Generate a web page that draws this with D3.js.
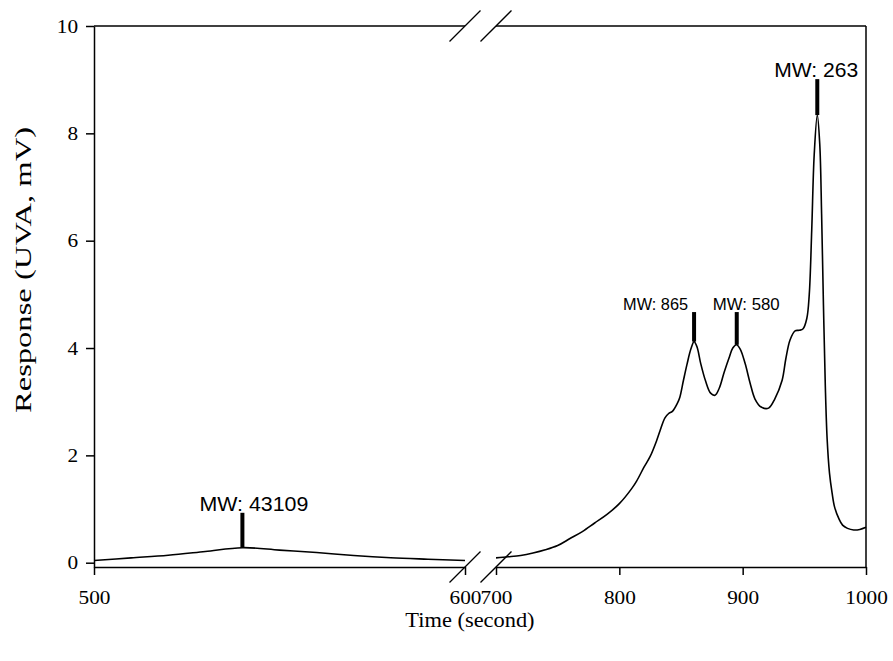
<!DOCTYPE html>
<html>
<head>
<meta charset="utf-8">
<script src="https://cdn.jsdelivr.net/npm/d3@7"></script>
<style>
  body { margin: 0; background: #fff; }
  .serif { font-family: "Liberation Serif", "Times New Roman", serif; }
  .sans { font-family: "Liberation Sans", Arial, sans-serif; }
</style>
</head>
<body>
<svg id="chart" width="893" height="661"></svg>
<script>
// left segment of the broken time axis (500-600 s)
const leftTime = [500, 510, 520, 530, 540, 550, 560, 570, 580, 590, 600];
const leftResp = [0.04, 0.09, 0.14, 0.21, 0.28, 0.235, 0.19, 0.135, 0.093, 0.065, 0.04];

// right segment (700-1000 s)
const rightTime = [700, 710, 720, 730, 740, 750, 760, 770, 780, 790, 800, 810, 814, 820, 825, 830, 833, 837,
  840, 843, 847, 849, 852, 855, 858, 860.6, 863, 866, 870, 874, 877.6, 881, 885, 889, 892, 895, 898, 902,
  906, 910, 915, 921, 926, 932, 935, 938.4, 942.5, 946, 949, 952, 954, 956, 958, 960.5, 962.5, 964, 965.5,
  967, 968.5, 970.4, 972.5, 974.5, 978, 981, 985, 990, 995, 1000];
const rightResp = [0.09, 0.11, 0.135, 0.18, 0.24, 0.32, 0.45, 0.58, 0.74, 0.9, 1.1, 1.38, 1.52, 1.78, 1.98,
  2.26, 2.46, 2.7, 2.78, 2.82, 2.97, 3.08, 3.4, 3.71, 3.98, 4.12, 4.02, 3.71, 3.38, 3.16, 3.12, 3.25, 3.55,
  3.82, 4.0, 4.06, 3.98, 3.71, 3.35, 3.05, 2.9, 2.88, 3.05, 3.4, 3.8, 4.15, 4.32, 4.33, 4.36, 4.55, 5.0, 6.2,
  7.6, 8.34, 7.8, 6.5, 4.8, 3.3, 2.3, 1.67, 1.3, 1.04, 0.82, 0.7, 0.64, 0.61, 0.62, 0.66];

// molecular weight markers
const markerTime = [540, 860.6, 895.2, 960.5];
const markerBase = [0.28, 4.12, 4.06, 8.34];
const markerTop = [0.93, 4.67, 4.67, 9.01];
const markerLabel = ['MW: 43109', 'MW: 865', 'MW: 580', 'MW: 263'];

const leftTicks = [500, 600];
const rightTicks = [700, 800, 900, 1000];
const yTicks = [0, 2, 4, 6, 8, 10];

// label placement relative to its bar (not data)
const labelStyle = [
  { dx: -43, size: 19.5, width: 109 },
  { dx: -71, size: 17, width: 65 },
  { dx: -24, size: 17, width: 67 },
  { dx: -43, size: 19.5, width: 84 },
];

const margin = { left: 94, right: 866, top: 26, bottom: 567 };
const breakLeft = 465;
const breakRight = 496;

const svg = d3.select('#chart');

const xLeft = d3.scaleLinear().domain([500, 600]).range([margin.left, breakLeft]);
const xRight = d3.scaleLinear().domain([700, 1000]).range([breakRight, margin.right]);
const y = d3.scaleLinear().domain([-0.08, 10]).range([margin.bottom, margin.top]);

// stretch text along its baseline, the original figure is a bit wide
function stretch(sel, k) {
  sel.each(function () {
    const len = this.getComputedTextLength();
    d3.select(this).attr('textLength', len * k).attr('lengthAdjust', 'spacingAndGlyphs');
  });
}

function styleAxis(g) {
  g.attr('font-family', null).attr('font-size', null);
  g.select('.domain').attr('stroke', '#000').attr('stroke-width', 1.5);
  g.selectAll('.tick line').attr('stroke', '#000').attr('stroke-width', 1.5);
  g.selectAll('text').attr('class', 'serif').attr('font-size', 19).attr('fill', '#000');
  stretch(g.selectAll('text'), 1.12);
}

const fmt = d3.format('d');

svg.append('g')
  .attr('transform', `translate(0,${margin.bottom})`)
  .call(d3.axisBottom(xLeft).tickValues(leftTicks).tickFormat(fmt)
    .tickSize(8).tickSizeOuter(0).tickPadding(16))
  .call(styleAxis);

svg.append('g')
  .attr('transform', `translate(0,${margin.bottom})`)
  .call(d3.axisBottom(xRight).tickValues(rightTicks).tickFormat(fmt)
    .tickSize(8).tickSizeOuter(0).tickPadding(16))
  .call(styleAxis);

svg.append('g')
  .attr('transform', `translate(${margin.left},0)`)
  .call(d3.axisLeft(y).tickValues(yTicks).tickFormat(fmt)
    .tickSize(8).tickSizeOuter(0).tickPadding(8))
  .call(styleAxis);

// frame: top (broken) and right
const frame = svg.append('g').attr('stroke', '#000').attr('stroke-width', 1.5);
frame.append('line').attr('x1', margin.left).attr('x2', breakLeft).attr('y1', margin.top).attr('y2', margin.top);
frame.append('line').attr('x1', breakRight).attr('x2', margin.right).attr('y1', margin.top).attr('y2', margin.top);
frame.append('line').attr('x1', margin.right).attr('x2', margin.right).attr('y1', margin.top).attr('y2', margin.bottom);

// break marks
[margin.top, margin.bottom].forEach((yy) => {
  [breakLeft, breakRight].forEach((xx) => {
    frame.append('line')
      .attr('x1', xx - 15.5).attr('y1', yy + 15.5)
      .attr('x2', xx + 15.5).attr('y2', yy - 15.5)
      .attr('stroke-width', 1.3);
  });
});

// response curves
function drawCurve(xs, ys, xScale) {
  const line = d3.line()
    .x((d) => xScale(d[0]))
    .y((d) => y(d[1]))
    .curve(d3.curveCatmullRom.alpha(0.5));
  svg.append('path')
    .datum(d3.zip(xs, ys))
    .attr('fill', 'none')
    .attr('stroke', '#000')
    .attr('stroke-width', 1.6)
    .attr('d', line);
}
drawCurve(leftTime, leftResp, xLeft);
drawCurve(rightTime, rightResp, xRight);

// marker bars and labels
const xOf = (t) => (t <= 600 ? xLeft(t) : xRight(t));

markerTime.forEach((t, i) => {
  const x = xOf(t);
  svg.append('line')
    .attr('x1', x).attr('x2', x)
    .attr('y1', y(markerBase[i])).attr('y2', y(markerTop[i]))
    .attr('stroke', '#000').attr('stroke-width', 4);

  const st = labelStyle[i];
  svg.append('text')
    .attr('class', 'sans')
    .attr('x', x + st.dx)
    .attr('y', y(markerTop[i]) - 2)
    .attr('font-size', st.size)
    .attr('textLength', st.width)
    .attr('lengthAdjust', 'spacingAndGlyphs')
    .text(markerLabel[i]);
});

// axis titles
svg.append('text')
  .attr('class', 'serif')
  .attr('x', 470).attr('y', 627)
  .attr('text-anchor', 'middle')
  .attr('font-size', 20)
  .text('Time (second)')
  .call(stretch, 1.12);

svg.append('text')
  .attr('class', 'serif')
  .attr('transform', 'translate(31,270) rotate(-90)')
  .attr('text-anchor', 'middle')
  .attr('font-size', 23)
  .attr('textLength', 286)
  .attr('lengthAdjust', 'spacingAndGlyphs')
  .text('Response (UVA, mV)');
</script>
</body>
</html>
